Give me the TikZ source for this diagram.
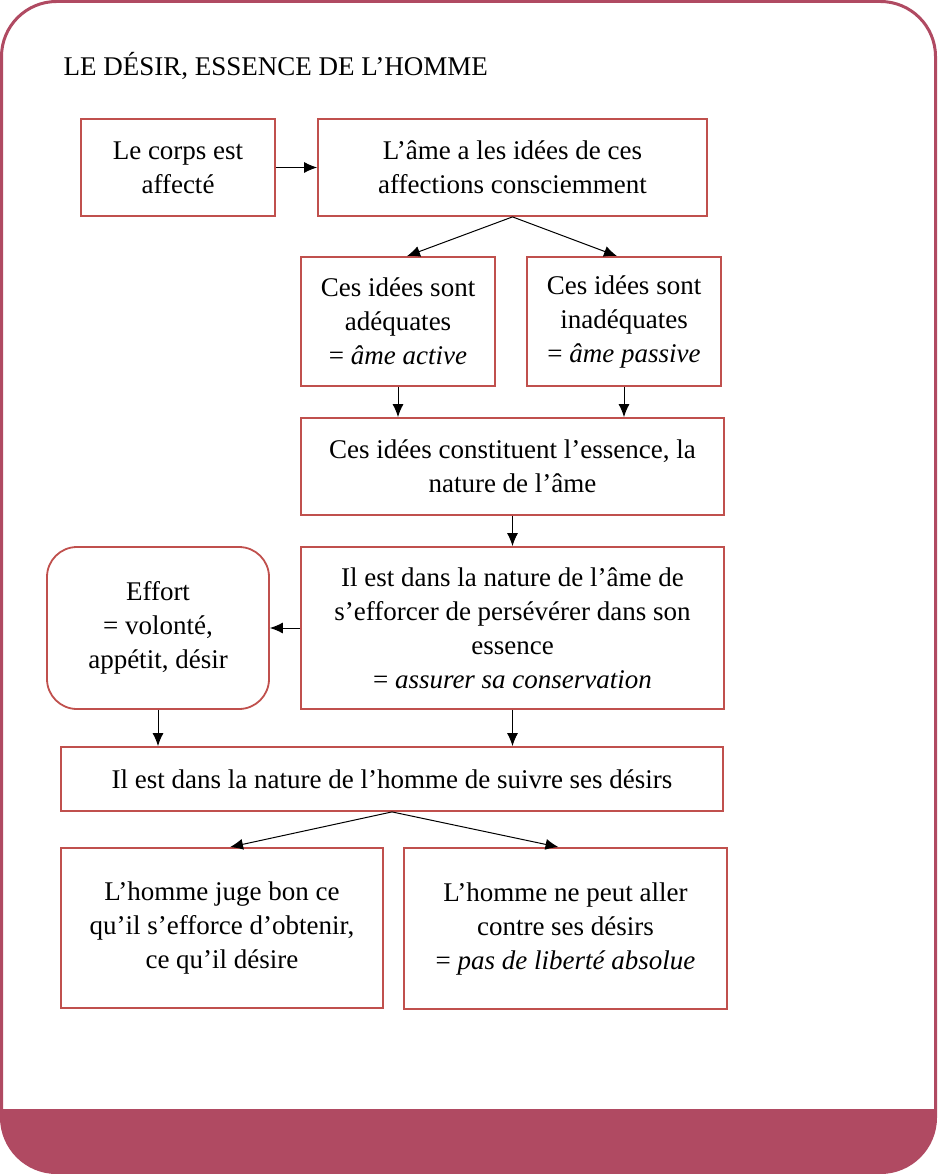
\documentclass[tikz,border=0pt]{standalone}
\usepackage{fontspec}
\setmainfont{Liberation Serif}
\usepackage{tikz}
\usetikzlibrary{calc,shapes,arrows.meta}
\definecolor{cadre}{HTML}{B04A62}
\definecolor{rouge}{HTML}{C0504D}
\tikzset{
    boite/.style={draw=rouge, line width=1.8pt, inner sep=0pt, align=center, fill=white},
    fleche/.style={-{Latex[length=13pt,width=11pt]}, line width=1pt, black}
}

\begin{document}
\begin{tikzpicture}[x=1pt,y=-1pt,every node/.style={font=\fontsize{27}{34}\selectfont}]
        \useasboundingbox (0,0) rectangle (937,1174);
        \begin{scope}
        \clip[rounded corners=55pt] (1.5,1.5) rectangle (935.5,1172.5);
        \fill[cadre] (0,1109) rectangle (937,1174);
        \end{scope}
        \draw[cadre, line width=3pt, rounded corners=55pt] (1.5,1.5) rectangle (935.5,1172.5);
        \node[anchor=base west] (titre) at (60,76) {LE DÉSIR, ESSENCE DE L’HOMME};
        \node[boite, minimum width=194pt, minimum height=97pt] (corps) at (178,167.5) {Le corps est\\affecté};
        \node[boite, minimum width=389pt, minimum height=97pt] (ame) at (512.5,167.5) {L’âme a les idées de ces\\affections consciemment};
        \node[boite, minimum width=194pt, minimum height=129pt] (adeq) at (398,321.5) {Ces idées sont\\adéquates\\= \textit{âme active}};
        \node[boite, minimum width=194pt, minimum height=129pt] (inadeq) at (624,321.5) {Ces idées sont\\inadéquates\\= \textit{âme passive}};
        \node[boite, minimum width=423pt, minimum height=97pt] (essence) at (512.5,466.5) {Ces idées constituent l’essence, la\\nature de l’âme};
        \node[boite, minimum width=423pt, minimum height=162pt] (nature) at (512.5,628) {Il est dans la nature de l’âme de\\s’efforcer de persévérer dans son\\essence\\= \textit{assurer sa conservation}};
        \node[boite, rounded corners=30pt, minimum width=222pt, minimum height=162pt] (effort) at (158,628) {Effort\\= volonté,\\appétit, désir};
        \node[boite, minimum width=662pt, minimum height=64pt] (homme) at (392,779) {Il est dans la nature de l’homme de suivre ses désirs};
        \node[boite, minimum width=322pt, minimum height=160pt] (juge) at (222,928) {L’homme juge bon ce\\qu’il s’efforce d’obtenir,\\ce qu’il désire};
        \node[boite, minimum width=323pt, minimum height=161pt] (liberte) at (565.5,928.5) {L’homme ne peut aller\\contre ses désirs\\= \textit{pas de liberté absolue}};
        \draw[fleche] (corps) -- (ame);
        \draw[fleche] (ame.south) -- ([xshift=9pt]adeq.north);
        \draw[fleche] (ame.south) -- ([xshift=-7pt]inadeq.north);
        \draw[fleche] (adeq) -- (adeq |- essence.north);
        \draw[fleche] (inadeq) -- (inadeq |- essence.north);
        \draw[fleche] (essence) -- (nature);
        \draw[fleche] (nature) -- (effort);
        \draw[fleche] (effort) -- (effort |- homme.north);
        \draw[fleche] (nature) -- (nature |- homme.north);
        \draw[fleche] (homme.south) -- ([xshift=8pt]juge.north);
        \draw[fleche] (homme.south) -- ([xshift=-7pt]liberte.north);
    \end{tikzpicture}
\end{document}
